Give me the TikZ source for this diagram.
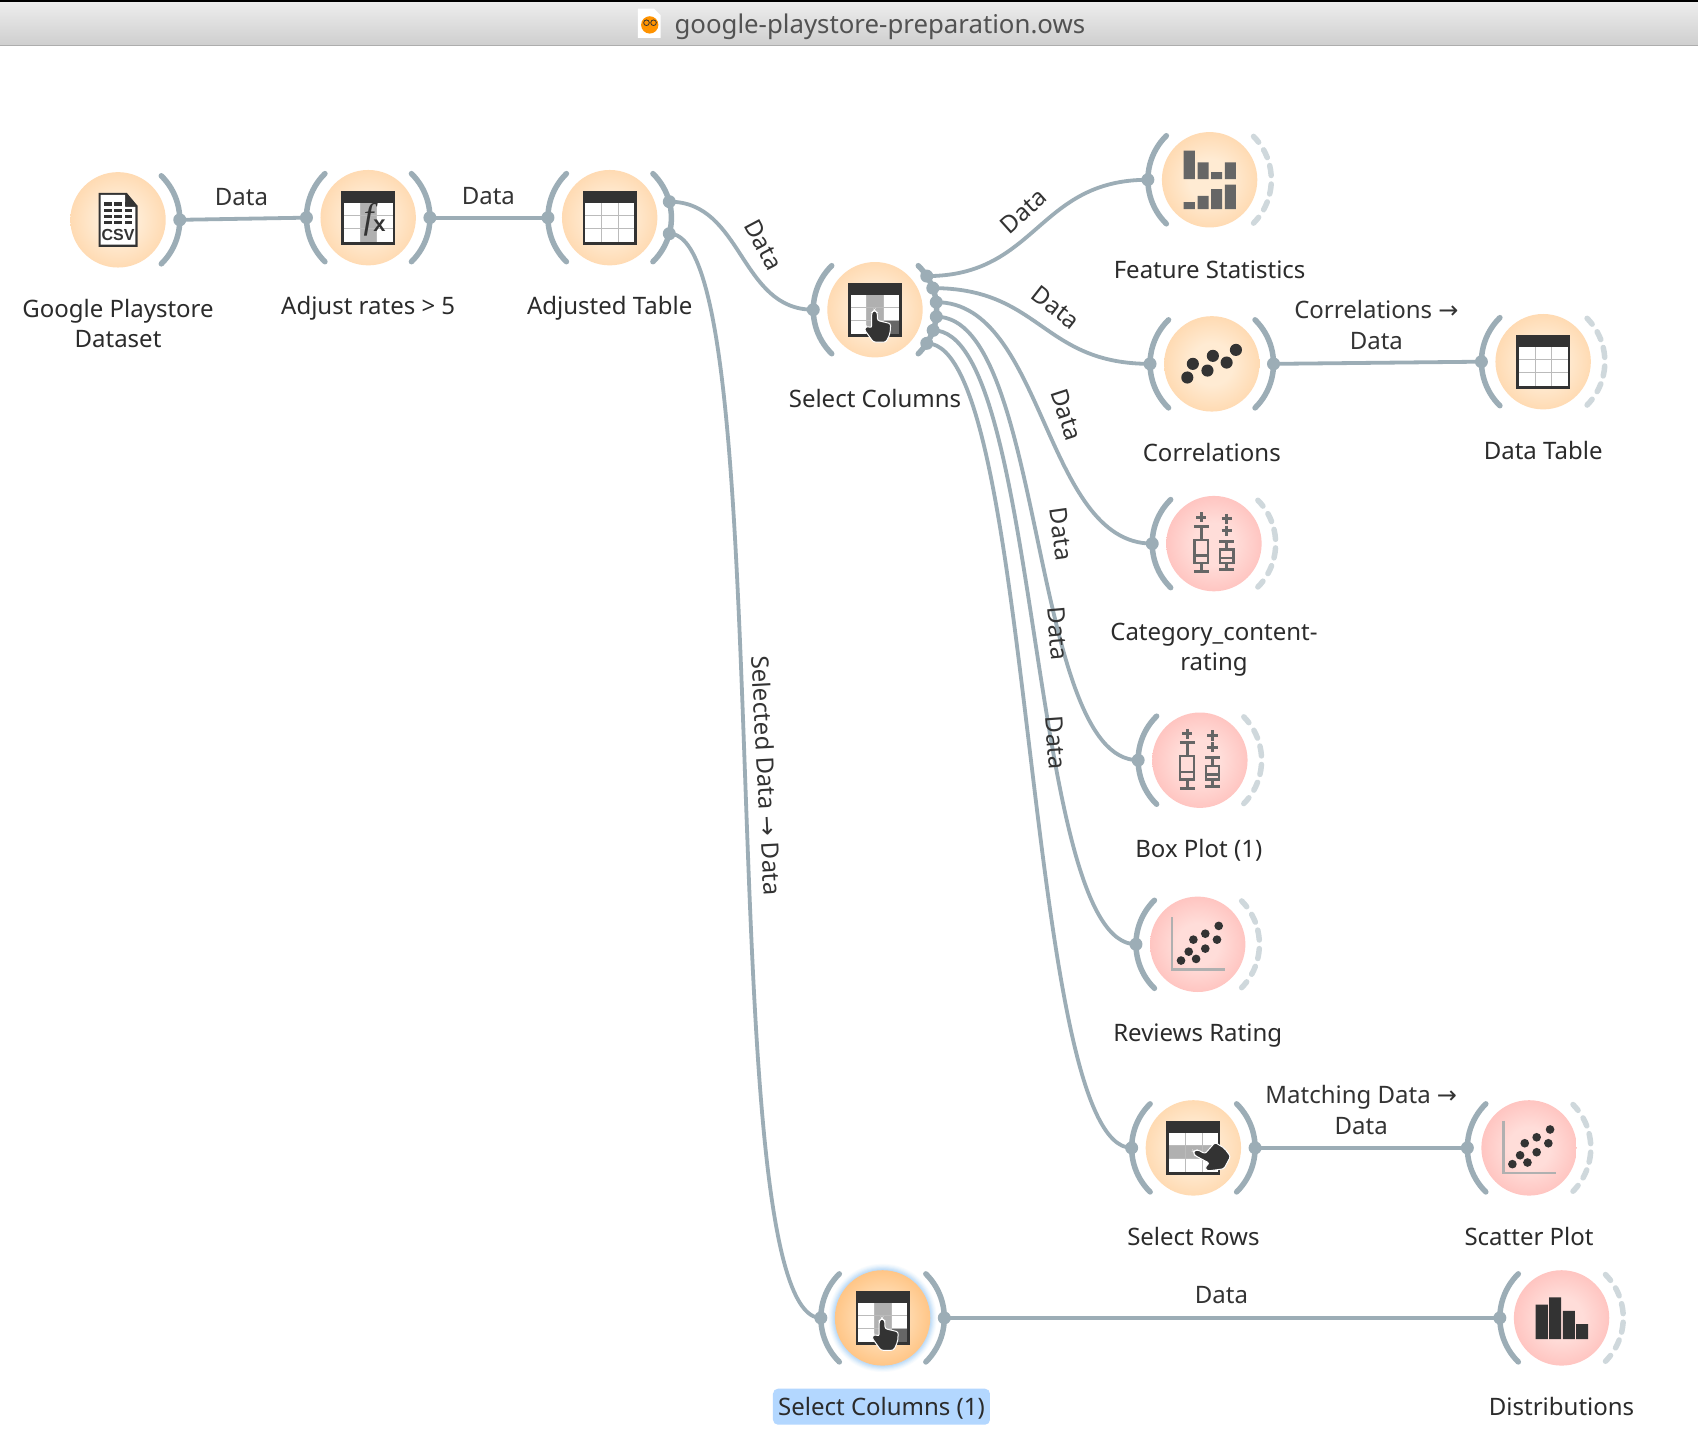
\documentclass[tikz,border=0pt]{standalone}
\usepackage{fontspec}
\setmainfont{Noto Sans}
\newfontfamily\arrowfont{DejaVu Sans}
\newfontfamily\fxfont{Liberation Serif}
\newfontfamily\boldsans{Liberation Sans}
\definecolor{linec}{HTML}{9CADB6}
\definecolor{dashc}{HTML}{CFD8DC}
\definecolor{ink}{HTML}{333333}
\definecolor{midgray}{HTML}{666666}
\definecolor{gridc}{HTML}{BBBBBB}
\definecolor{hilite}{HTML}{B0B0B0}
\definecolor{orbOin}{HTML}{FFEBD3}
\definecolor{orbOout}{HTML}{FFCF9C}
\definecolor{orbRin}{HTML}{FFDDD9}
\definecolor{orbRout}{HTML}{FFB4B0}
\definecolor{orbSin}{HTML}{FFDDB5}
\definecolor{orbSout}{HTML}{FFB566}
\definecolor{glowc}{HTML}{A9D0F5}
\pgfdeclareradialshading{orbO}{\pgfpoint{0bp}{0bp}}{color(0bp)=(orbOin); color(11bp)=(orbOin); color(35bp)=(orbOout); color(50bp)=(orbOout)}
\pgfdeclareradialshading{orbR}{\pgfpoint{0bp}{0bp}}{color(0bp)=(orbRin); color(11bp)=(orbRin); color(35bp)=(orbRout); color(50bp)=(orbRout)}
\pgfdeclareradialshading{orbS}{\pgfpoint{0bp}{0bp}}{color(0bp)=(orbSin); color(11bp)=(orbSin); color(35bp)=(orbSout); color(50bp)=(orbSout)}
\tikzset{
  orb/.style={circle,minimum size=95.4pt,inner sep=0pt,outer sep=0pt},
  arcline/.style={draw=linec,line width=5.5pt,line cap=round},
  dashline/.style={draw=dashc,line width=5.5pt,line cap=round},
  conn/.style={draw=linec,line width=3.8pt},
  portdot/.style={circle,fill=linec,minimum size=13pt,inner sep=0pt,outer sep=0pt},
  wlabel/.style={font=\fontsize{24}{30.3}\selectfont,text=ink!85!black,align=center,inner sep=0pt},
  clabel/.style={font=\fontsize{24}{30.3}\selectfont,text=ink,align=center,inner sep=0pt},
  gridl/.style={draw=gridc,line width=1pt},
  hand/.style={fill=ink,draw=white,line width=1pt,rounded corners=2.2pt},
}
\newcommand\orbbare[4]{%
  \node[orb,shading=#4] (#1) at (#2,#3) {};
}
\newcommand\orbnode[4]{%
  \orbbare{#1}{#2}{#3}{#4}
  \draw[arcline] (#1.center) ++(134.5:57) arc[start angle=134.5,end angle=225.5,radius=57];
  \path (#1.center) ++(180:57) node[portdot] (#1-in) {};
}
\newcommand\solidright[1]{%
  \draw[arcline] (#1.center) ++(-45.5:57) arc[start angle=-45.5,end angle=45.5,radius=57];
}
\newcommand\dashright[1]{%
  \foreach \a/\b in {-44.6/-37.5,-29/-21,-13.3/-4,4/13.3,21/29,37.5/44.6}{%
    \draw[dashline] (#1.center) ++(\a:57) arc[start angle=\a,end angle=\b,radius=57];
  }%
}
\newcommand\outport[3]{\path (#1.center) ++(#3:57) node[portdot] (#2) {};}
\newcommand\tablebase{%
  \fill[ink] (-25,-25) rectangle (25,25);
  \fill[white] (-22.5,-13.5) rectangle (22.5,22.5);
}
\newcommand\tablegrid{%
  \draw[gridl] (-7.5,-13.5) -- (-7.5,22.5);
  \draw[gridl] (8,-13.5) -- (8,22.5);
  \draw[gridl] (-22.5,-2.2) -- (22.5,-2.2);
  \draw[gridl] (-22.5,10.1) -- (22.5,10.1);
}
\newcommand\handshape{%
  \draw[hand] (-3.1,16.9) -- (-3.1,2.8) -- (-0.6,0.4) -- (2.2,2.8) -- (2.2,9.9)
    -- (14.5,12.9) -- (13.9,22.2) -- (10.2,29.9) -- (-1.5,29.9) -- (-9.9,18.2)
    -- (-7.7,15.1) -- cycle;
}
\newcommand\colsicon{%
  \tablebase
  \fill[hilite] (-7.5,-13.5) rectangle (8,22.5);
  \fill[midgray] (8,10.1) rectangle (22.5,22.5);
  \tablegrid
  \handshape
}
\begin{document}
\begin{tikzpicture}[x=1.08291pt,y=-1.08291pt]
\useasboundingbox (0,0) rectangle (1568,1328);
\fill[white] (0,0) rectangle (1568,1328);
% title bar
\shade[top color=black!7,bottom color=black!19] (0,1.5) rectangle (1568,42);
\fill[black] (0,0) rectangle (1568,1.6);
\draw[draw=black!32,line width=1.2pt] (0,42) -- (1568,42);
\fill[white] (589,8) -- (604,8) -- (610,14) -- (610,35) -- (589,35) -- cycle;
\fill[orange!85!yellow] (600,23) circle[radius=8];
\draw[ink,line width=.8pt] (597,21) circle[radius=2.6] (603.5,21) circle[radius=2.6];
\node[font=\fontsize{25.8}{30}\selectfont,text=black!68,inner sep=0pt] (title) at (812.5,24.5) {google-playstore-preparation.ows};
% glow of the selected widget
\foreach \rr/\pc in {50/8,49/18,48/30,47/45,46/60,45/75}{\fill[glowc!\pc!white] (815,1217) circle[radius=\rr];}
% widgets
\orbbare{gp}{109}{203}{orbO}
\orbnode{ar}{340}{201}{orbO}
\orbnode{at}{563}{201}{orbO}
\orbnode{sc}{808}{286}{orbO}
\orbnode{fs}{1117}{166}{orbO}
\orbnode{co}{1119}{336}{orbO}
\orbnode{dt}{1425}{334}{orbO}
\orbnode{cc}{1121}{502}{orbR}
\orbnode{bp}{1108}{702}{orbR}
\orbnode{rr}{1106}{872}{orbR}
\orbnode{sr}{1102}{1060}{orbO}
\orbnode{sp}{1412}{1060}{orbR}
\orbnode{sd}{815}{1217}{orbS}
\orbnode{di}{1442}{1217}{orbR}
\solidright{gp}\solidright{ar}\solidright{at}\solidright{sc}\solidright{co}\solidright{sr}\solidright{sd}
\dashright{fs}\dashright{dt}\dashright{cc}\dashright{bp}\dashright{rr}\dashright{sp}\dashright{di}
% output ports
\outport{gp}{gp-o}{0}
\outport{ar}{ar-o}{0}
\outport{at}{at-o1}{-15}
\outport{at}{at-o2}{15}
\outport{sc}{sc-o1}{-33}
\outport{sc}{sc-o2}{-20.5}
\outport{sc}{sc-o3}{-7}
\outport{sc}{sc-o4}{6.5}
\outport{sc}{sc-o5}{19.5}
\outport{sc}{sc-o6}{33}
\outport{co}{co-o}{0}
\outport{sr}{sr-o}{0}
\outport{sd}{sd-o}{0}
% connectors
\draw[conn] (gp-o.center) -- (ar-in.center);
\draw[conn] (ar-o.center) -- (at-in.center);
\draw[conn] (at-o1.center) .. controls +(68,0) and +(-68,0) .. (sc-in.center);
\draw[conn] (at-o2.center) .. controls +(104,0) and +(-104,0) .. (sd-in.center);
\draw[conn] (sc-o1.center) .. controls +(102,0) and +(-102,0) .. (fs-in.center);
\draw[conn] (sc-o2.center) .. controls +(100,0) and +(-100,0) .. (co-in.center);
\draw[conn] (sc-o3.center) .. controls +(100,0) and +(-100,0) .. (cc-in.center);
\draw[conn] (sc-o4.center) .. controls +(100,0) and +(-100,0) .. (bp-in.center);
\draw[conn] (sc-o5.center) .. controls +(100,0) and +(-100,0) .. (rr-in.center);
\draw[conn] (sc-o6.center) .. controls +(100,0) and +(-100,0) .. (sr-in.center);
\draw[conn] (co-o.center) -- (dt-in.center);
\draw[conn] (sr-o.center) -- (sp-in.center);
\draw[conn] (sd-o.center) -- (di-in.center);
% CSV icon
\begin{scope}[shift={(109,203)}]
  \fill[ink] (-18,-25) -- (8,-25) -- (18,-13) -- (18,25) -- (-18,25) -- cycle;
  \fill[white] (-16,-23) -- (6.5,-23) -- (6.5,-12) -- (16,-12) -- (16,23) -- (-16,23) -- cycle;
  \foreach \yy in {-14.5,-8.6,-3,2.5}{\foreach \xx in {-9.5,0,9.5}{\fill[ink] (\xx-3.5,\yy-1.7) rectangle (\xx+3.5,\yy+1.7);}}
  \node[font=\boldsans\bfseries\fontsize{16}{16}\selectfont,text=ink,inner sep=0pt] (csvtext) at (0,14) {CSV};
\end{scope}
% fx icon
\begin{scope}[shift={(340,201)}]
  \tablebase
  \fill[hilite] (-7.5,-13.5) rectangle (8,22.5);
  \tablegrid
  \node[font=\fxfont\itshape\fontsize{36}{36}\selectfont,text=ink,inner sep=0pt] (fxf) at (0.5,2) {f};
  \node[font=\boldsans\bfseries\fontsize{22}{22}\selectfont,text=ink,inner sep=0pt] (fxx) at (10.5,7) {x};
\end{scope}
% table icons
\begin{scope}[shift={(563,201)}]\tablebase\tablegrid\end{scope}
\begin{scope}[shift={(1425,334)}]\tablebase\tablegrid\end{scope}
\begin{scope}[shift={(808,286)}]\colsicon\end{scope}
\begin{scope}[shift={(815,1217)}]\colsicon\end{scope}
% select rows icon
\begin{scope}[shift={(1102,1060)}]
  \tablebase
  \fill[hilite] (-22.5,-2.2) rectangle (22.5,10.1);
  \tablegrid
  \begin{scope}[shift={(0,2.4)},rotate=62,scale=1.1]\handshape\end{scope}
\end{scope}
% feature statistics icon
\begin{scope}[shift={(1117,166)}]
  \fill[midgray] (-23.9,-27) rectangle (-13.7,-.6) (-11.1,-16) rectangle (-1,-.6) (1.3,-7) rectangle (11.5,-.6) (14,-16) rectangle (24.2,-.6);
  \fill[midgray] (-23.9,20.6) rectangle (-13.7,27) (-11.1,14.8) rectangle (-1,27) (1.3,8.6) rectangle (11.5,27) (14,4.6) rectangle (24.2,27);
\end{scope}
% correlations icon
\begin{scope}[shift={(1119,336)}]
  \foreach \xx/\yy in {-22.6/12.6,-17.5/0,-4/6.2,1/-7.4,13.7/-1.2,22.3/-12.9}{\fill[ink] (\xx,\yy) circle[radius=5.6];}
\end{scope}
% box plot icons
\foreach \cx/\cy in {1121/502,1108/702}{
\begin{scope}[shift={(\cx,\cy)},draw=midgray,line width=3pt]
  \draw (-11.7,-29) -- (-11.7,-19.6) (-16.4,-24.3) -- (-7,-24.3);
  \draw (-18.5,-16) -- (-4.9,-16) (-11.7,-16) -- (-11.7,-3.7) (-11.7,17.8) -- (-11.7,26) (-18.5,26) -- (-4.9,26);
  \draw[line width=2.2pt] (-18,-3.7) rectangle (-5.4,17.8) (-18,11) -- (-5.4,11);
  \draw (11.7,-27.5) -- (11.7,-18.1) (7,-22.8) -- (16.4,-22.8);
  \draw (11.7,-16.7) -- (11.7,-7.3) (7,-12) -- (16.4,-12);
  \draw (5,-2.2) -- (18.4,-2.2) (11.7,-2.2) -- (11.7,5.5) (11.7,17.8) -- (11.7,24) (5,24) -- (18.4,24);
  \draw[line width=2.2pt] (5.4,5.5) rectangle (18,17.8) (5.4,13.2) -- (18,13.2);
\end{scope}}
% scatter plot icons
\foreach \cx/\cy in {1106/872,1412/1060}{
\begin{scope}[shift={(\cx,\cy)}]
  \draw[draw=hilite,line width=2.4pt] (-23.7,-25.2) -- (-23.7,23.4) -- (25,23.4);
  \foreach \xx/\yy in {-15.4/15,-8.3/6.8,-1.5/13.5,-4/-4.3,7/4,7/-9.8,17.8/-4.3,19.4/-17}{\fill[ink] (\xx,\yy) circle[radius=4];}
\end{scope}}
% distributions icon
\begin{scope}[shift={(1442,1217)}]
  \fill[ink] (-24,-12.3) rectangle (-12.6,19.7) (-11.4,-19) rectangle (-.3,19.7) (1.2,-6.5) rectangle (12.3,19.7) (13.5,5.8) rectangle (24.6,19.7);
\end{scope}
% widget labels
\node[wlabel] (l-gp) at (109,299) {Google Playstore\\Dataset};
\node[wlabel] (l-ar) at (340,285) {Adjust rates > 5};
\node[wlabel] (l-at) at (563,285) {Adjusted Table};
\node[wlabel] (l-sc) at (808,368) {Select Columns};
\node[wlabel] (l-fs) at (1117,249) {Feature Statistics};
\node[wlabel] (l-co) at (1119,418) {Correlations};
\node[wlabel] (l-dt) at (1425,416) {Data Table};
\node[wlabel] (l-cc) at (1121,600) {Category\_content-\\rating};
\node[wlabel] (l-bp) at (1107,785) {Box Plot (1)};
\node[wlabel] (l-rr) at (1106,956) {Reviews Rating};
\node[wlabel] (l-sr) at (1102,1142) {Select Rows};
\node[wlabel] (l-sp) at (1412,1142) {Scatter Plot};
\node[wlabel] (l-di) at (1442,1299) {Distributions};
\node[wlabel,fill={rgb,255:red,179;green,215;blue,255},rounded corners=5pt,minimum width=217pt,text height=19pt,text depth=2pt,minimum height=36pt] (l-sd) at (814,1299) {Select Columns (1)};
% connector labels
\node[clabel] (c1) at (223,182) {Data};
\node[clabel] (c2) at (451,181) {Data};
\node[clabel,rotate=-62] (c3) at (705,226) {Data};
\node[clabel,rotate=42] (c4) at (945,195) {Data};
\node[clabel,rotate=-38] (c5) at (975,284) {Data};
\node[clabel,rotate=-72] (c6) at (985,383) {Data};
\node[clabel,rotate=-82] (c7) at (980,493) {Data};
\node[clabel,rotate=-85] (c8) at (977,585) {Data};
\node[clabel,rotate=-86] (c9) at (975,686) {Data};
\node[clabel,rotate=-87] (c10) at (708,716) {Selected Data {\arrowfont →} Data};
\node[clabel] (c11) at (1271,300) {Correlations {\arrowfont →}\\Data};
\node[clabel] (c12) at (1257,1025) {Matching Data {\arrowfont →}\\Data};
\node[clabel] (c13) at (1128,1196) {Data};
\end{tikzpicture}
\end{document}
